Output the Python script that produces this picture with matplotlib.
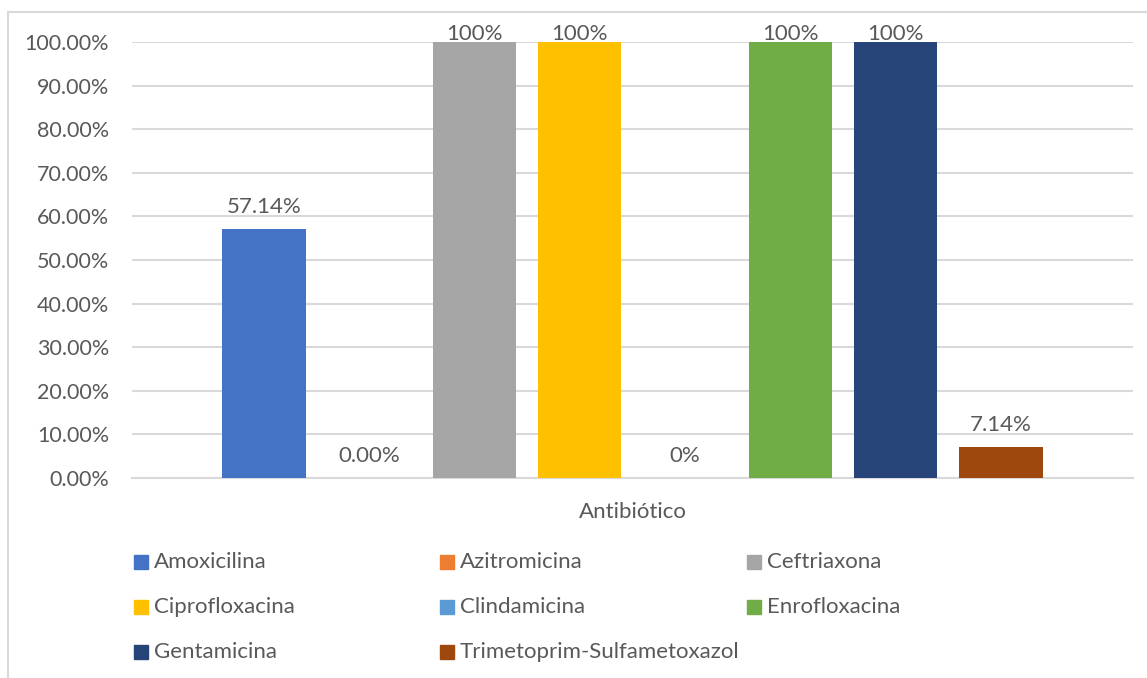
import matplotlib
matplotlib.use("Agg")
import matplotlib.pyplot as plt
from matplotlib.patches import Rectangle
from matplotlib.lines import Line2D

# ---- data ----
category = "Antibiótico"
series_names = ["Amoxicilina", "Azitromicina", "Ceftriaxona", "Ciprofloxacina",
                "Clindamicina", "Enrofloxacina", "Gentamicina", "Trimetoprim-Sulfametoxazol"]
values = [0.5714, 0.0, 1.0, 1.0, 0.0, 1.0, 1.0, 0.0714]
value_labels = ["57.14%", "0.00%", "100%", "100%", "0%", "100%", "100%", "7.14%"]
colors = ["#4472C4", "#ED7D31", "#A5A5A5", "#FFC000",
          "#5B9BD5", "#70AD47", "#264478", "#9E480E"]
yticks = [0.0, 0.1, 0.2, 0.3, 0.4, 0.5, 0.6, 0.7, 0.8, 0.9, 1.0]
ytick_labels = ["0.00%", "10.00%", "20.00%", "30.00%", "40.00%", "50.00%",
                "60.00%", "70.00%", "80.00%", "90.00%", "100.00%"]

FONT = "Lato"
TXT = "#595959"
GRID = "#D9D9D9"
FS = 16

W, H = 1147, 678
fig = plt.figure(figsize=(W / 100, H / 100), dpi=100)
fig.patch.set_facecolor("white")

# axes placement in pixels
ax_l, ax_r, ax_top, ax_bot = 132, 1133, 42, 478
ax = fig.add_axes([ax_l / W, 1 - ax_bot / H, (ax_r - ax_l) / W, (ax_bot - ax_top) / H])
ax_h_px = ax_bot - ax_top

n = len(values)
xs = list(range(n))
slot_px = 105.3
span_units = (ax_r - ax_l) / slot_px
ax.set_xlim((n - 1) / 2 - span_units / 2, (n - 1) / 2 + span_units / 2)
ax.set_ylim(0, 1)

ax.bar(xs, values, width=0.79, color=colors, zorder=3)

for x, v, lab in zip(xs, values, value_labels):
    off_px = min(16, ax_h_px * (1 - v) + 1.5)
    ax.annotate(lab, (x, v), xytext=(0, off_px * 0.72), textcoords="offset points",
                ha="center", va="baseline", fontsize=FS, color=TXT,
                family=FONT, clip_on=False, zorder=4)

ax.set_yticks(yticks)
ax.set_yticklabels(ytick_labels, fontsize=15.5, color=TXT, family=FONT)
ax.set_xticks([])
ax.tick_params(axis="y", length=0, pad=16.5)
ax.grid(axis="y", color=GRID, linewidth=1.5, zorder=0)
for s in ["top", "right", "left"]:
    ax.spines[s].set_visible(False)
ax.spines["bottom"].set_color(GRID)
ax.spines["bottom"].set_linewidth(1.5)

ax.set_xlabel(category, fontsize=FS, color=TXT, family=FONT, labelpad=17)

# chart border (partially cropped)
fig.add_artist(Line2D([8 / W, 1], [1 - 12 / H, 1 - 12 / H], color=GRID, lw=1.5,
                      transform=fig.transFigure))
fig.add_artist(Line2D([8 / W, 8 / W], [1 - 12 / H, 0], color=GRID, lw=1.5,
                      transform=fig.transFigure))

# legend laid out in 3 columns below
col_x = [134, 440, 747]
row_y = [562, 607, 652]
sq = 14
for i, (name, c) in enumerate(zip(series_names, colors)):
    r, col = divmod(i, 3)
    x0, yc = col_x[col], row_y[r]
    fig.add_artist(Rectangle((x0 / W, 1 - (yc + sq / 2) / H), sq / W, sq / H,
                             transform=fig.transFigure, color=c))
    fig.text((x0 + sq + 6) / W, 1 - yc / H, name, fontsize=FS, color=TXT,
             family=FONT, ha="left", va="center")

fig.savefig("out.png", dpi=100)
